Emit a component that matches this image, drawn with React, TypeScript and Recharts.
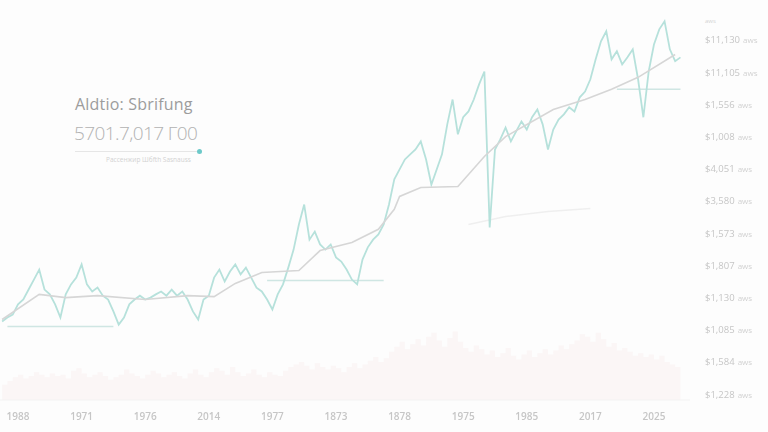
import React from "react";
import {
  ComposedChart,
  Line,
  Area,
  XAxis,
  YAxis,
} from "recharts";

// closing prices (teal), volume (faint pink band), one sample per x index
const closePrices = [
  224, 236, 245, 277, 292, 323, 354, 385, 323, 308, 277, 236, 308, 339, 360, 401,
  339, 317, 329, 304, 292, 255, 214, 236, 277, 292, 304, 292, 298, 308, 317, 304,
  323, 304, 317, 292, 255, 230, 292, 304, 360, 385, 348, 379, 401, 370, 391, 360,
  329, 317, 292, 261, 308, 339, 391, 447, 525, 587, 478, 503, 463, 447, 463, 423,
  410, 385, 354, 339, 416, 454, 478, 494, 525, 587, 665, 696, 727, 743, 758, 783,
  727, 649, 696, 743, 836, 913, 805, 858, 876, 913, 960, 1000, 516, 758, 789, 826,
  783, 814, 845, 820, 858, 882, 836, 758, 820, 851, 867, 889, 876, 920, 938, 976,
  1038, 1094, 1125, 1038, 1063, 1022, 1044, 1069, 976, 858, 1000, 1084, 1131, 1156, 1069, 1032,
  1044,
];

const volumes = [
  1.2, 1.5, 1.8, 2.0, 1.7, 1.9, 2.2, 2.0, 1.8, 2.1, 1.9,
  2.0, 1.7, 2.3, 2.5, 2.1, 1.8, 2.0, 2.2, 1.9, 1.6,
  1.8, 2.0, 2.4, 2.1, 1.9, 1.7, 2.0, 2.3, 2.1, 1.8,
  2.0, 2.2, 1.9, 1.7, 2.1, 2.4, 2.0, 1.8, 2.2, 2.5,
  2.3, 2.0, 2.6, 2.2, 1.9, 2.1, 2.4, 2.0, 1.8, 2.2,
  2.0, 1.9, 2.3, 2.6, 2.8, 3.0, 2.7, 2.4, 2.9, 2.6,
  2.4, 2.7, 2.5, 2.2, 2.6, 2.9, 2.5, 2.8, 3.1, 3.4,
  3.0, 3.3, 3.8, 4.2, 4.6, 4.0, 4.4, 4.8, 4.3, 5.0,
  5.3, 4.7, 4.2, 4.9, 5.4, 4.6, 4.1, 3.8, 4.3, 4.0,
  3.6, 3.9, 3.4, 3.7, 4.1, 3.5, 3.2, 3.6, 3.9, 3.4,
  3.7, 4.0, 3.6, 3.9, 4.3, 4.0, 4.4, 4.7, 5.2, 5.0,
  4.6, 5.3, 4.8, 4.2, 4.5, 3.9, 4.1, 3.8, 3.5, 3.7,
  3.4, 3.6, 3.2, 3.5, 3.0, 2.8, 2.6, 2.4,
];

// moving average, read at a few points
const maIndex = [0, 7, 12, 18, 27, 35, 40, 44, 49, 56, 60, 66, 71, 74, 75, 79, 86, 91, 95, 104, 110, 115, 120, 127];
const maValues = [230, 308, 298, 304, 292, 304, 301, 342, 376, 382, 444, 469, 510, 572, 612, 640, 643, 736, 798, 882, 913, 945, 982, 1053];

// faint secondary line in the middle
const faintIndex = [88, 95, 103, 111];
const faintValues = [525, 550, 565, 575];

// support levels: [startIndex, endIndex, value]
const supportLevels: [number, number, number][] = [
  [1, 21, 208],
  [50, 72, 351],
  [116, 128, 945],
];

const xTicks = [3, 15, 27, 39, 51, 63, 75, 87, 99, 111, 123];
const xLabels = ["1988", "1971", "1976", "2014", "1977", "1873", "1878", "1975", "1985", "2017", "2025"];

const yTicks = [0, 100, 200, 300, 400, 500, 600, 700, 800, 900, 1000, 1100];
const yLabels = [
  "$1,228", "$1,584", "$1,085", "$1,130", "$1,807", "$1,573",
  "$3,580", "$4,051", "$1,008", "$1,556", "$11,105", "$11,130",
];

const data = closePrices.map((close, i) => ({ i, close, volume: volumes[i] }));
const maData = maIndex.map((i, k) => ({ i, ma: maValues[k] }));
const faintData = faintIndex.map((i, k) => ({ i, faint: faintValues[k] }));

const PriceTick = (props: any) => {
  const { x, y, payload } = props;
  const label = yLabels[yTicks.indexOf(payload.value)] ?? "";
  return (
    <text x={x + 13} y={y} dy={4} fontSize={9.5} fill="#c6c6c6" fontFamily="Open Sans">
      {label}
      <tspan dx={3} fontSize={8} fill="#d2d2d2">aws</tspan>
    </text>
  );
};

export default function App() {
  return (
    <div style={{ position: "relative", width: 768, height: 432, background: "#fdfdfd", fontFamily: "Open Sans" }}>
      <style>{"body{margin:0}"}</style>
      <div style={{ filter: "blur(0.6px)" }}>
        <ComposedChart width={768} height={432} data={data} margin={{ top: 20, right: 0, bottom: 0, left: 0 }}>
          <XAxis
            dataKey="i"
            type="number"
            domain={[-0.4, 129.8]}
            ticks={xTicks}
            tickFormatter={(v: number) => xLabels[xTicks.indexOf(v)] ?? ""}
            tick={{ fontSize: 10, fill: "#c6c6c6", fontFamily: "Open Sans", fontWeight: 600 }}
            tickLine={false}
            tickSize={0}
            tickMargin={13}
            axisLine={{ stroke: "#f3f3f3" }}
            height={32}
          />
          <YAxis
            yAxisId="price"
            orientation="right"
            type="number"
            domain={[-20, 1160]}
            ticks={yTicks}
            tick={<PriceTick />}
            tickLine={false}
            tickSize={0}
            axisLine={false}
            width={78}
          />
          <YAxis yAxisId="vol" hide domain={[0, 30]} />
          <Area
            yAxisId="vol"
            dataKey="volume"
            type="stepAfter"
            stroke="none"
            fill="#f7e4e4"
            fillOpacity={0.25}
            isAnimationActive={false}
          />
          <Line
            yAxisId="price"
            data={faintData}
            dataKey="faint"
            type="linear"
            stroke="#efefef"
            strokeWidth={1.5}
            dot={false}
            isAnimationActive={false}
          />
          {supportLevels.map(([a, b, v], k) => (
            <Line
              key={k}
              yAxisId="price"
              data={[{ i: a, lvl: v }, { i: b, lvl: v }]}
              dataKey="lvl"
              stroke="#cfe6e3"
              strokeWidth={1.5}
              dot={false}
              isAnimationActive={false}
            />
          ))}
          <Line
            yAxisId="price"
            dataKey="close"
            type="linear"
            stroke="#b6e1db"
            strokeWidth={1.8}
            dot={false}
            isAnimationActive={false}
          />
          <Line
            yAxisId="price"
            data={maData}
            dataKey="ma"
            type="linear"
            stroke="#d6d6d6"
            strokeWidth={1.6}
            dot={false}
            isAnimationActive={false}
          />
        </ComposedChart>
      </div>

      <div style={{ position: "absolute", left: 75, top: 93, fontSize: 16, color: "#9c9c9c", letterSpacing: 0.2 }}>
        Aldtio: Sbrifung
      </div>
      <div style={{ position: "absolute", left: 74, top: 120, fontSize: 19, color: "#b2b2b2", fontWeight: 300, letterSpacing: -0.6 }}>
        5701.7,017 Г00
      </div>
      <div style={{ position: "absolute", left: 75, top: 151, width: 124, height: 1, background: "#e6e6e6" }} />
      <div
        style={{
          position: "absolute",
          left: 197,
          top: 149,
          width: 5,
          height: 5,
          borderRadius: 3,
          background: "#6cc9c9",
        }}
      />
      <div style={{ position: "absolute", left: 106, top: 155, fontSize: 6.5, color: "#d2d2d2" }}>
        Рассенжир Шбfth Sasnauss
      </div>
      <div style={{ position: "absolute", left: 705, top: 17, fontSize: 6, color: "#d4d4d4" }}>aws</div>
    </div>
  );
}
